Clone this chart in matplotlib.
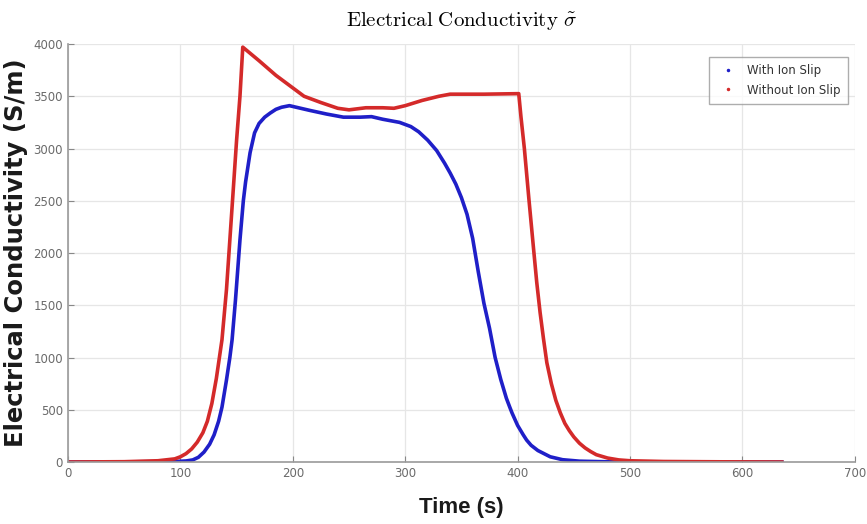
import matplotlib
matplotlib.use('Agg')
import matplotlib.pyplot as plt
from matplotlib.lines import Line2D

plt.rcParams['mathtext.fontset'] = 'cm'

# data
t_ion = [0, 60, 95, 105, 111, 116, 121, 126, 130, 134, 137, 141, 144, 146, 149, 153,
         156, 158, 162, 166, 170, 175, 180, 185, 190, 197, 205, 215, 230, 245,
         260, 270, 280, 295, 305, 312, 320, 328, 335, 340, 345, 350, 355, 360,
         365, 370, 375, 380, 385, 390, 393, 395, 400, 405, 408, 412, 418, 429,
         440, 455, 480, 540, 635]
sigma_ion = [0, 2, 5, 10, 20, 45, 95, 170, 260, 390, 525, 785, 1000, 1170, 1550, 2125,
             2500, 2680, 2960, 3150, 3240, 3300, 3340, 3375, 3395, 3410, 3390, 3365,
             3330, 3300, 3300, 3305, 3280, 3250, 3210, 3160, 3080, 2980, 2860, 2765,
             2660, 2530, 2370, 2140, 1820, 1520, 1280, 1000, 790, 610, 525, 470, 350,
             260, 210, 160, 110, 50, 22, 8, 2, 0, 0]

t_noion = [0, 50, 80, 95, 100, 105, 110, 115, 120, 124, 128, 132, 137, 141, 144,
           147, 150, 153, 155.5, 170, 185, 200, 210, 225, 240, 250, 265, 280, 290,
           300, 315, 330, 340, 370, 401, 403, 406, 410, 414, 417, 420, 423, 426,
           430, 434, 438, 442, 446, 450, 455, 460, 465, 470, 480, 490, 500, 530,
           580, 635]
sigma_noion = [0, 3, 12, 30, 50, 80, 125, 190, 280, 390, 560, 800, 1170, 1650, 2125,
               2600, 3080, 3500, 3970, 3840, 3700, 3580, 3500, 3440, 3385, 3370, 3390,
               3390, 3385, 3410, 3460, 3500, 3520, 3520, 3525, 3300, 3000, 2520, 2060,
               1720, 1430, 1180, 950, 750, 590, 470, 370, 300, 240, 180, 135, 100, 70,
               38, 20, 12, 5, 2, 0]

labels = ['With Ion Slip', 'Without Ion Slip']
blue = '#1f1fc8'
red = '#d42a2a'

fig = plt.figure(figsize=(8.67, 5.24), dpi=100)
ax = fig.add_axes([0.0784, 0.1183, 0.9076, 0.7977])

ax.plot(t_ion, sigma_ion, color=blue, lw=2.6)
ax.plot(t_noion, sigma_noion, color=red, lw=2.6)

ax.set_xlim(0, 700)
ax.set_ylim(0, 4000)
ax.set_xticks(range(0, 701, 100))
ax.set_yticks(range(0, 4001, 500))
ax.grid(True, color='#e6e6e6', lw=0.9)
ax.set_axisbelow(True)

for lab in ax.get_xticklabels() + ax.get_yticklabels():
    lab.set_fontsize(8.5)
    lab.set_color('#6a6a6a')
ax.tick_params(direction='in', length=4, color='#888888', width=0.8)

for side in ['top', 'right']:
    ax.spines[side].set_visible(False)
for side in ['left', 'bottom']:
    ax.spines[side].set_color('#9a9a9a')
    ax.spines[side].set_linewidth(1.2)

ax.set_title(r'$\mathrm{Electrical\ Conductivity}\ \tilde{\sigma}$', fontsize=15,
             pad=12)
ax.set_ylabel('Electrical Conductivity (S/m)', fontsize=17.5, fontweight='bold',
              color='#1a1a1a', labelpad=4)
ax.set_xlabel('Time (s)', fontsize=16, fontweight='bold', color='#1a1a1a',
              family='Liberation Sans', labelpad=12)

handles = [Line2D([], [], color=blue, marker='.', ls='none', markersize=3),
           Line2D([], [], color=red, marker='.', ls='none', markersize=3)]
leg = ax.legend(handles, labels, loc='upper right', bbox_to_anchor=(0.991, 0.969),
                borderaxespad=0, fancybox=False, edgecolor='#999999',
                handletextpad=0.6, prop={'size': 8.5},
                borderpad=0.6, labelspacing=0.55)
for txt in leg.get_texts():
    txt.set_color('#333333')

fig.savefig('out.png', dpi=100)
